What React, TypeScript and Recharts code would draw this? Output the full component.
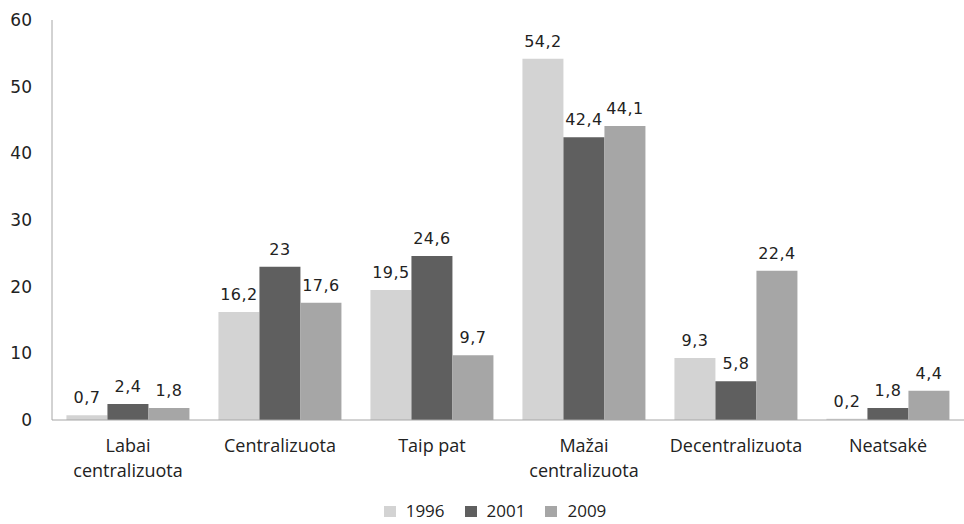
import { BarChart, Bar, XAxis, YAxis, Legend, LabelList } from 'recharts'

const categories = [
  'Labai centralizuota',
  'Centralizuota',
  'Taip pat',
  'Mažai centralizuota',
  'Decentralizuota',
  'Neatsakė',
]
const values1996 = [0.7, 16.2, 19.5, 54.2, 9.3, 0.2]
const values2001 = [2.4, 23, 24.6, 42.4, 5.8, 1.8]
const values2009 = [1.8, 17.6, 9.7, 44.1, 22.4, 4.4]
const yTicks = [0, 10, 20, 30, 40, 50, 60]

const series = [
  { key: 'y1996', name: '1996', color: '#d3d3d3' },
  { key: 'y2001', name: '2001', color: '#5f5f5f' },
  { key: 'y2009', name: '2009', color: '#a6a6a6' },
]

const data = categories.map((name, i) => ({
  name,
  y1996: values1996[i],
  y2001: values2001[i],
  y2009: values2009[i],
}))

const fmt = (v: any) => String(v).replace('.', ',')

const CategoryTick = ({ x, y, payload }: any) => {
  const label: string = payload.value
  const lines = label.length > 15 ? label.split(' ') : [label]
  return (
    <text
      x={x}
      y={y}
      textAnchor="middle"
      fill="#222"
      style={{ fontFamily: '"Open Sans", sans-serif', fontSize: 18 }}
    >
      {lines.map((l, i) => (
        <tspan key={i} x={x} y={y + 32 + i * 25}>
          {l}
        </tspan>
      ))}
    </text>
  )
}

const LegendContent = () => (
  <div
    style={{
      height: 24,
      display: 'flex',
      justifyContent: 'center',
      alignItems: 'center',
      marginLeft: 26,
      fontFamily: '"Open Sans", sans-serif',
      fontSize: 17,
      lineHeight: '20px',
      color: '#222',
    }}
  >
    {series.map((s) => (
      <div key={s.key} style={{ display: 'flex', alignItems: 'center', margin: '0 10px' }}>
        <span style={{ width: 12, height: 11, background: s.color, marginRight: 10, display: 'inline-block' }} />
        <span>{s.name}</span>
      </div>
    ))}
  </div>
)

export default function App() {
  return (
    <div style={{ position: 'absolute', left: 0, top: 0, width: 964, height: 524, background: '#fff' }}>
      <BarChart
        width={964}
        height={524}
        data={data}
        margin={{ top: 20, right: 0, left: 0, bottom: 0 }}
        barCategoryGap="9.5%"
        barGap={0}
      >
        <XAxis
          dataKey="name"
          height={80}
          tickLine={false}
          tickSize={0}
          tickMargin={0}
          interval={0}
          stroke="#a6a6a6"
          tick={<CategoryTick />}
        />
        <YAxis
          width={52}
          domain={[0, 60]}
          ticks={yTicks}
          tickLine={false}
          tickSize={0}
          tickMargin={20}
          stroke="#a6a6a6"
          tick={{ fill: '#222', fontSize: 17, fontFamily: '"DejaVu Sans", sans-serif' }}
        />
        <Legend verticalAlign="bottom" height={24} content={<LegendContent />} wrapperStyle={{ bottom: 1 }} />
        {series.map((s) => (
          <Bar key={s.key} dataKey={s.key} name={s.name} fill={s.color} isAnimationActive={false}>
            <LabelList
              dataKey={s.key}
              position="top"
              offset={12}
              formatter={fmt}
              fill="#222"
              style={{ fontSize: 16, fontFamily: '"DejaVu Sans", sans-serif', letterSpacing: 0.5 }}
            />
          </Bar>
        ))}
      </BarChart>
    </div>
  )
}
